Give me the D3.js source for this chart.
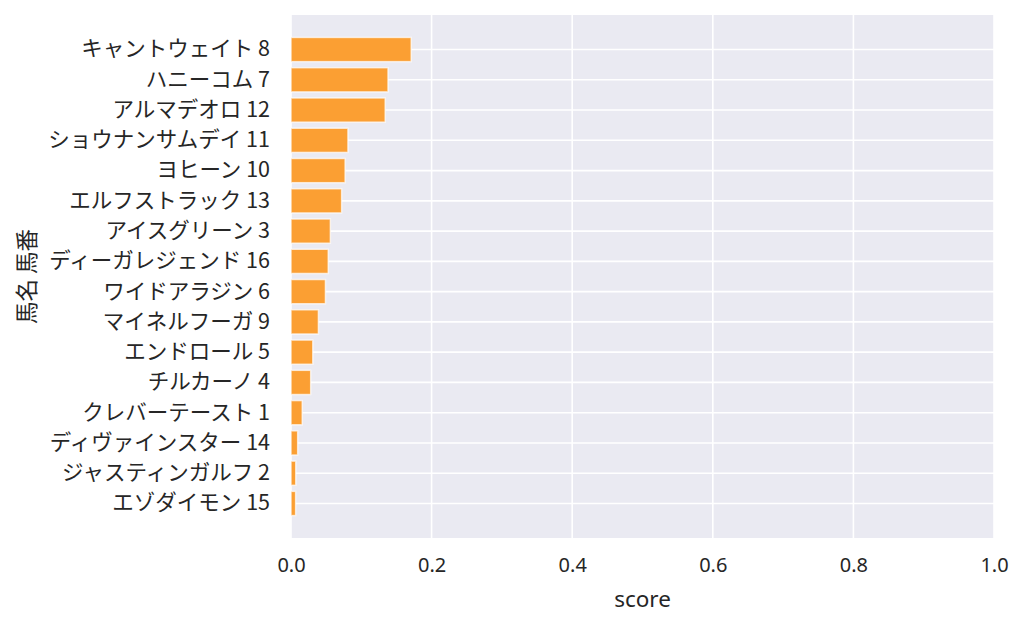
<!DOCTYPE html>
<html>
<head>
<meta charset="utf-8">
<script src="https://cdn.jsdelivr.net/npm/d3@7"></script>
<style>
  body { margin: 0; background: #fff; }
  text { font-family: "Noto Sans CJK JP", "Noto Sans", sans-serif; fill: #262626; }
</style>
</head>
<body>
<div id="chart"></div>
<script>
var horses = ['キャントウェイト 8', 'ハニーコム 7', 'アルマデオロ 12', 'ショウナンサムデイ 11',
    'ヨヒーン 10', 'エルフストラック 13', 'アイスグリーン 3', 'ディーガレジェンド 16',
    'ワイドアラジン 6', 'マイネルフーガ 9', 'エンドロール 5', 'チルカーノ 4',
    'クレバーテースト 1', 'ディヴァインスター 14', 'ジャスティンガルフ 2', 'エゾダイモン 15'];
var scores = [0.171, 0.138, 0.134, 0.081, 0.077, 0.072, 0.056, 0.053,
    0.049, 0.039, 0.031, 0.028, 0.016, 0.0095, 0.0068, 0.0066];
var xTicks = [0.0, 0.2, 0.4, 0.6, 0.8, 1.0];

var W = 1024, H = 627;
var plotL = 291, plotR = 994, plotT = 15, plotB = 538;

var svg = d3.select('#chart')
    .append('svg')
    .attr('width', W)
    .attr('height', H);

var x = d3.scaleLinear()
    .domain([0, 1])
    .range([plotL, plotR]);
var y = d3.scaleBand()
    .domain(horses)
    .range([plotT + 19.4, plotB - 19.4])
    .paddingInner(0.2)
    .paddingOuter(0.1);

svg.append('rect')
    .attr('x', plotL)
    .attr('y', plotT)
    .attr('width', plotR - plotL)
    .attr('height', plotB - plotT)
    .attr('fill', '#eaeaf2');

// grid
svg.selectAll('.vgrid')
    .data(xTicks)
    .enter()
    .append('line')
    .attr('x1', (d) => x(d))
    .attr('x2', (d) => x(d))
    .attr('y1', plotT)
    .attr('y2', plotB)
    .attr('stroke', '#fff')
    .attr('stroke-width', 1.6);

svg.selectAll('.hgrid')
    .data(horses)
    .enter()
    .append('line')
    .attr('x1', plotL)
    .attr('x2', plotR)
    .attr('y1', (d) => y(d) + y.bandwidth() / 2)
    .attr('y2', (d) => y(d) + y.bandwidth() / 2)
    .attr('stroke', '#fff')
    .attr('stroke-width', 1.6);

// bars
svg.selectAll('.bar')
    .data(horses)
    .enter()
    .append('rect')
    .attr('x', x(0))
    .attr('y', (d) => y(d))
    .attr('width', (d, i) => x(scores[i]) - x(0))
    .attr('height', y.bandwidth())
    .attr('fill', '#fb9f33')
    .attr('stroke', '#fff')
    .attr('stroke-opacity', 0.7)
    .attr('stroke-width', 1.5);

// axes
var xAxis = svg.append('g')
    .attr('transform', `translate(0,${plotB})`)
    .call(d3.axisBottom(x).tickValues(xTicks).tickFormat(d3.format('.1f')).tickSize(0).tickPadding(20));
xAxis.select('.domain').remove();
xAxis.selectAll('text')
    .attr('font-size', 20)
    .style('font-family', '"Noto Sans", sans-serif')
    .attr('fill', '#262626');

var yAxis = svg.append('g')
    .attr('transform', `translate(${plotL},0)`)
    .call(d3.axisLeft(y).tickSize(0).tickPadding(21));
yAxis.select('.domain').remove();
yAxis.selectAll('text')
    .attr('font-size', 21.5)
    .attr('fill', '#262626');

svg.append('text')
    .attr('x', (plotL + plotR) / 2)
    .attr('y', 607)
    .attr('text-anchor', 'middle')
    .attr('font-size', 22.5)
    .style('font-family', '"Noto Sans", sans-serif')
    .text('score');

svg.append('text')
    .attr('transform', `translate(35,${(plotT + plotB) / 2}) rotate(-90)`)
    .attr('text-anchor', 'middle')
    .attr('font-size', 22.5)
    .text('馬名 馬番');
</script>
</body>
</html>
